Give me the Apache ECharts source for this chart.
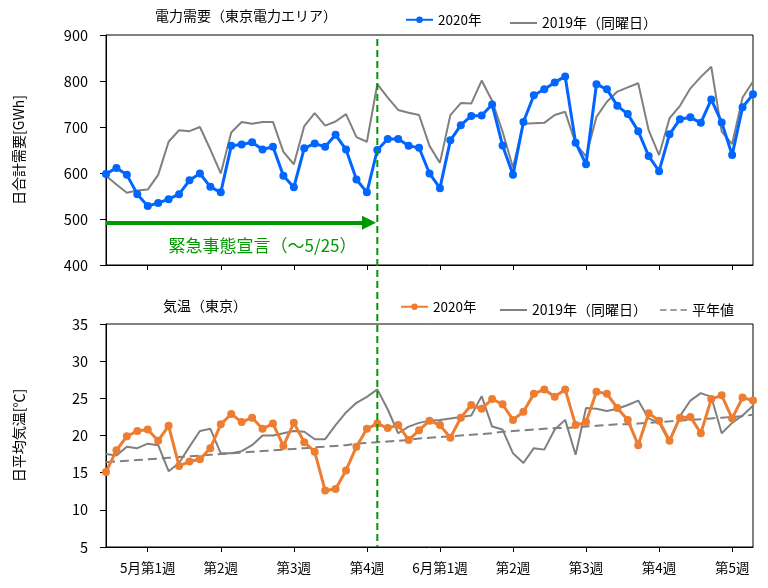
<!DOCTYPE html>
<html>
<head>
<meta charset="utf-8">
<script src="https://cdn.jsdelivr.net/npm/echarts@6/dist/echarts.min.js"></script>
<style>html,body{margin:0;padding:0;background:#fff;}#main{width:768px;height:588px;}</style>
</head>
<body>
<div id="main"></div>
<script>
// ---- data ----
const days = Array.from({length: 63}, (_, i) => i); // Apr 29 .. Jun 30 (day index)
const weekTicks = [4, 11, 18, 25, 32, 39, 46, 53, 60];
const weekLabels = ['5月第1週', '第2週', '第3週', '第4週', '6月第1週', '第2週', '第3週', '第4週', '第5週'];

const demand2020 = [598,611,596,554,528,535,543,554,584,599,
  570,558,659,662,667,651,657,594,569,654,
  664,657,683,651,586,558,650,674,674,659,
  655,599,567,671,704,724,725,749,660,596,
  711,769,782,797,810,666,619,793,782,746,
  728,691,637,604,684,717,721,709,760,710,
  639,743,771];
const demand2019 = [594,575,557,562,564,596,668,693,691,700,
  651,599,688,711,707,711,711,646,619,702,
  730,703,712,728,678,668,793,764,737,731,
  726,659,622,726,752,751,801,757,690,612,
  707,708,709,726,733,664,636,722,755,777,
  786,795,693,639,719,746,784,809,831,690,
  663,764,799];
const temp2020 = [15.1,18.0,19.9,20.6,20.8,19.3,21.3,15.9,16.5,16.8,
  18.3,21.5,22.9,21.8,22.4,20.9,21.6,18.6,21.7,19.1,
  17.8,12.6,12.8,15.3,18.5,20.9,21.6,21.0,21.4,19.4,
  20.7,22.0,21.4,19.7,22.4,24.1,23.6,24.9,24.2,22.1,
  23.2,25.6,26.2,25.2,26.2,21.4,21.8,25.9,25.6,23.7,
  22.1,18.7,23.0,22.0,19.3,22.4,22.5,20.3,24.9,25.4,
  22.3,25.1,24.7];
const temp2019 = [17.5,17.3,18.5,18.3,18.9,18.7,15.2,16.3,18.5,20.6,
  20.9,17.6,17.6,17.9,18.7,20.0,20.0,20.3,20.6,20.5,
  19.5,19.5,21.4,23.1,24.4,25.2,26.2,23.5,20.3,21.2,
  21.7,22.0,22.1,22.3,22.5,22.7,25.3,21.2,20.8,17.6,
  16.3,18.3,18.1,20.8,22.1,17.4,23.7,23.6,23.3,23.6,
  24.1,24.7,22.3,21.7,19.1,22.6,24.7,25.7,25.2,20.3,
  21.7,22.7,24.0];
const tempNormal = [16.4,16.5,16.6,16.7,16.8,16.9,17.0,17.1,17.2,17.3,
  17.4,17.5,17.6,17.7,17.8,17.9,18.0,18.1,18.2,18.3,
  18.4,18.5,18.6,18.7,18.9,19.0,19.1,19.2,19.3,19.4,
  19.6,19.7,19.8,19.9,20.0,20.1,20.2,20.3,20.5,20.6,
  20.7,20.8,20.9,21.0,21.0,21.1,21.2,21.3,21.4,21.5,
  21.5,21.6,21.7,21.8,21.9,22.0,22.1,22.2,22.3,22.4,
  22.5,22.6,22.8];
const emergencyEnd = 26;      // 5/25
const arrowLevel = 492;       // GWh level of the arrow
const emergencyText = '緊急事態宣言（～5/25）';

// ---- chart ----
const FONT = '"Noto Sans CJK JP", "Noto Sans", sans-serif';
const pairs = arr => arr.map((v, i) => [days[i], v]);
const chart = echarts.init(document.getElementById('main'));

const xAxisBase = (gi, showLabel) => ({
  type: 'value', gridIndex: gi, min: 0, max: 62,
  axisLine: {show: true, lineStyle: {color: '#000', width: 1}},
  axisTick: {show: true, length: 5, inside: false, customValues: weekTicks, lineStyle: {color: '#000'}},
  axisLabel: {show: showLabel, customValues: weekTicks, margin: 14, color: '#000', fontSize: 13.5, fontFamily: FONT,
    formatter: v => weekLabels[weekTicks.indexOf(v)] || ''},
  splitLine: {show: false}
});
const yAxisBase = (gi, min, max, interval, name) => ({
  type: 'value', gridIndex: gi, min, max, interval,
  name, nameLocation: 'middle', nameGap: 80, nameRotate: 90,
  nameTextStyle: {color: '#000', fontSize: 14, fontFamily: FONT},
  axisLine: {show: true, lineStyle: {color: '#000', width: 1}},
  axisTick: {show: true, length: 6, lineStyle: {color: '#000'}},
  axisLabel: {margin: 18, color: '#000', fontSize: 14.5, fontFamily: FONT},
  splitLine: {show: false}
});
const DASH_ICON = 'path://M0,0h9v2h-9z M14,0h9v2h-9z M28,0h9v2h-9z';
const legendItem = (left, top, name, icon, fs) => ({
  left, top, padding: 0, itemWidth: 27, itemHeight: icon ? 2 : 8, itemGap: 5,
  data: [icon ? {name, icon} : name], selectedMode: false,
  formatter: n => n.replace('\u200b', ''),
  textStyle: {color: '#000', fontSize: fs || 13.5, fontFamily: FONT}
});

chart.setOption({
  animation: false,
  backgroundColor: '#fff',
  title: [
    {text: '電力需要（東京電力エリア）', left: 155, top: 9, padding: 0,
      textStyle: {fontSize: 14, fontWeight: 'normal', color: '#000', fontFamily: FONT}},
    {text: '気温（東京）', left: 163, top: 299, padding: 0,
      textStyle: {fontSize: 14, fontWeight: 'normal', color: '#000', fontFamily: FONT}}
  ],
  legend: [
    legendItem(405, 13, '2020年'),
    legendItem(510, 16, '2019年（同曜日）', 'rect', 14),
    legendItem(400, 300, '2020年\u200b'),
    legendItem(500, 303, '2019年（同曜日）\u200b', 'rect', 14),
    legendItem(660, 303, '平年値', DASH_ICON, 14)
  ],
  grid: [
    {left: 106, top: 35, width: 647, height: 230, show: true, borderColor: '#000', borderWidth: 1, backgroundColor: 'transparent'},
    {left: 106, top: 324, width: 647, height: 223, show: true, borderColor: '#000', borderWidth: 1, backgroundColor: 'transparent'}
  ],
  xAxis: [xAxisBase(0, false), xAxisBase(1, true)],
  yAxis: [
    yAxisBase(0, 400, 900, 100, '日合計需要[GWh]'),
    yAxisBase(1, 5, 35, 5, '日平均気温[℃]')
  ],
  series: [
    {name: '2019年（同曜日）', type: 'line', xAxisIndex: 0, yAxisIndex: 0, data: pairs(demand2019),
      symbol: 'none', lineStyle: {color: '#808080', width: 2}, itemStyle: {color: '#808080'}, z: 2},
    {name: '2020年', type: 'line', xAxisIndex: 0, yAxisIndex: 0, data: pairs(demand2020),
      symbol: 'circle', symbolSize: 8, lineStyle: {color: '#0066ff', width: 3}, itemStyle: {color: '#0066ff'}, z: 3,
      markLine: {silent: true, symbol: ['none', 'triangle'], symbolSize: [14, 14],
        lineStyle: {color: '#009900', width: 4, type: 'solid'}, label: {show: false},
        data: [[{coord: [0, arrowLevel]}, {coord: [emergencyEnd - 0.8, arrowLevel]}]]}},
    {name: '平年値', type: 'line', xAxisIndex: 1, yAxisIndex: 1, data: pairs(tempNormal),
      symbol: 'none', lineStyle: {color: '#808080', width: 2, type: [9, 5]}, itemStyle: {color: '#808080'}, z: 2},
    {name: '2019年（同曜日）\u200b', type: 'line', xAxisIndex: 1, yAxisIndex: 1, data: pairs(temp2019),
      symbol: 'none', lineStyle: {color: '#808080', width: 2}, itemStyle: {color: '#808080'}, z: 2},
    {name: '2020年\u200b', type: 'line', xAxisIndex: 1, yAxisIndex: 1, data: pairs(temp2020),
      symbol: 'circle', symbolSize: 8, lineStyle: {color: '#ed7d31', width: 3}, itemStyle: {color: '#ed7d31'}, z: 3}
  ]
});

// annotations placed through the axes' own scales
const xv = chart.convertToPixel({xAxisIndex: 0}, emergencyEnd);
const yTop = chart.convertToPixel({yAxisIndex: 0}, 900);
const yBot = chart.convertToPixel({yAxisIndex: 1}, 5);
const tp = chart.convertToPixel({gridIndex: 0}, [15.0, 443]);
chart.setOption({
  graphic: [
    {type: 'line', z: 100, shape: {x1: xv, y1: yTop + 4, x2: xv, y2: yBot},
      style: {stroke: '#009900', lineWidth: 2, lineDash: [7, 4]}},
    {type: 'text', z: 100, x: tp[0], y: tp[1],
      style: {text: emergencyText, fill: '#009900', fontSize: 17, fontFamily: FONT, align: 'center', verticalAlign: 'middle'}}
  ]
});
</script>
</body>
</html>
